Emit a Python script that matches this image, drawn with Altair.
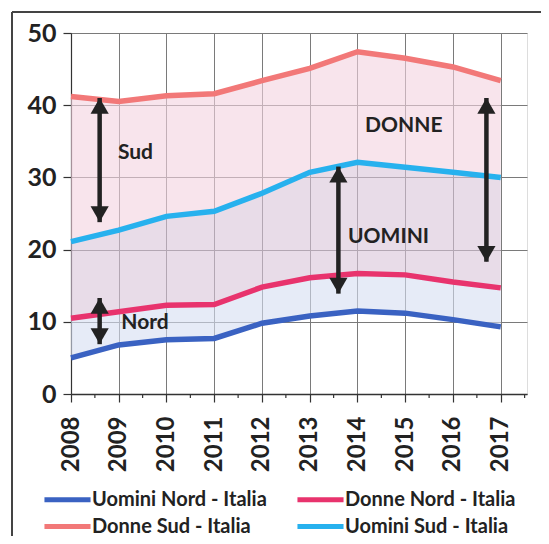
import altair as alt
import pandas as pd

years = list(range(2008, 2018))
uomini_nord = [5.0, 6.8, 7.5, 7.7, 9.8, 10.8, 11.5, 11.2, 10.3, 9.3]
donne_nord = [10.5, 11.4, 12.3, 12.4, 14.8, 16.1, 16.7, 16.5, 15.5, 14.7]
donne_sud = [41.2, 40.5, 41.3, 41.6, 43.4, 45.1, 47.4, 46.5, 45.3, 43.4]
uomini_sud = [21.1, 22.7, 24.6, 25.3, 27.8, 30.7, 32.1, 31.4, 30.7, 30.0]

# legend entries are filled column by column
series = ["Uomini Nord - Italia", "Donne Sud - Italia", "Donne Nord - Italia", "Uomini Sud - Italia"]
colors = ["#3A62C2", "#F27878", "#E8336D", "#27B1EE"]

# arrows: x position (year), top value, bottom value
arrow_x = [2008.6, 2008.6, 2013.6, 2016.7]
arrow_top = [41.0, 13.3, 31.5, 41.0]
arrow_bottom = [23.8, 6.9, 13.9, 18.3]

# annotation labels
label_text = ["Sud", "Nord", "UOMINI", "DONNE"]
label_x = [2009.35, 2009.55, 2014.65, 2014.97]
label_y = [33.4, 9.8, 21.7, 37.1]

minor_ticks = [2008.5 + i for i in range(10)]
year_ticks = years
y_ticks = [0, 10, 20, 30, 40, 50]

wide = pd.DataFrame({"anno": years, "UN": uomini_nord, "DN": donne_nord,
                     "DS": donne_sud, "US": uomini_sud})
long = pd.DataFrame({
    "anno": years * 4,
    "valore": uomini_nord + donne_sud + donne_nord + uomini_sud,
    "serie": sum([[s] * len(years) for s in series], []),
})
arrows = pd.DataFrame({"x": arrow_x, "top": arrow_top, "bottom": arrow_bottom})
labels = pd.DataFrame({"t": label_text, "x": label_x, "y": label_y})
minor = pd.DataFrame({"x": minor_ticks})

FONT = "Lato"
xs = alt.Scale(domain=[2008, 2017.55], nice=False, zero=False)
ys = alt.Scale(domain=[0, 50], nice=False)

x_axis = alt.Axis(
    values=year_ticks, format="d", labelAngle=-90, labelFontSize=24, labelFont=FONT,
    labelFontWeight="bold", labelColor="#222", labelPadding=14, labelBaseline="middle",
    labelAlign="right",
    title=None, grid=True, gridColor="#7a7a7a", gridWidth=1,
    domainColor="#333", domainWidth=1.5, tickColor="#333", tickSize=8, tickWidth=1.2)
y_axis = alt.Axis(
    values=y_ticks, labelFontSize=25, labelFont=FONT, labelFontWeight="bold",
    labelColor="#222", labelPadding=7, title=None, grid=True, gridColor="#7a7a7a",
    gridWidth=1, domainColor="#333", domainWidth=1.2, tickColor="#333", tickSize=8,
    tickWidth=1.2)

base = alt.Chart(wide)
area1 = base.mark_area(color="#F4D2E0", opacity=0.6).encode(
    x=alt.X("anno:Q", scale=xs, axis=x_axis),
    y=alt.Y("DS:Q", scale=ys, axis=y_axis), y2="US:Q")
area2 = base.mark_area(color="#D8C5D8", opacity=0.6).encode(
    x=alt.X("anno:Q", scale=xs), y=alt.Y("US:Q", scale=ys), y2="DN:Q")
area3 = base.mark_area(color="#D5DEF2", opacity=0.6).encode(
    x=alt.X("anno:Q", scale=xs), y=alt.Y("DN:Q", scale=ys), y2="UN:Q")

lines = alt.Chart(long).mark_line(strokeWidth=5.5).encode(
    x=alt.X("anno:Q", scale=xs), y=alt.Y("valore:Q", scale=ys),
    color=alt.Color("serie:N", scale=alt.Scale(domain=series, range=colors),
                    legend=alt.Legend(
                        title=None, orient="none", legendX=-14, legendY=456,
                        columns=2, symbolType="M-3,0H3", symbolSize=236,
                        symbolStrokeWidth=5, labelFont=FONT, labelFontSize=20,
                        labelFontWeight="bold", labelColor="#222", labelOffset=14,
                        rowPadding=6, columnPadding=20, labelLimit=300,
                        gridAlign="all")),
)

minor_rule = alt.Chart(minor).mark_rule(color="#333", strokeWidth=1.2).encode(
    x=alt.X("x:Q", scale=xs), y=alt.value(361), y2=alt.value(365))

shaft = alt.Chart(arrows).mark_rule(color="#222", strokeWidth=4.5).encode(
    x=alt.X("x:Q", scale=xs), y=alt.Y("top:Q", scale=ys), y2="bottom:Q")
head_top = alt.Chart(arrows).mark_point(shape="triangle-up", filled=True, color="#222",
                                        size=330, opacity=1, yOffset=8).encode(
    x=alt.X("x:Q", scale=xs), y=alt.Y("top:Q", scale=ys))
head_bot = alt.Chart(arrows).mark_point(shape="triangle-down", filled=True, color="#222",
                                        size=330, opacity=1, yOffset=-8).encode(
    x=alt.X("x:Q", scale=xs), y=alt.Y("bottom:Q", scale=ys))

texts = alt.Chart(labels).mark_text(font=FONT, fontSize=21, fontWeight="bold",
                                    color="#222").encode(
    x=alt.X("x:Q", scale=xs), y=alt.Y("y:Q", scale=ys), text="t:N")

frame_left = alt.Chart(minor).mark_rule(color="#444", strokeWidth=1.5).encode(
    x=alt.value(-59), y=alt.value(-21), y2=alt.value(530))
frame_top = alt.Chart(minor).mark_rule(color="#444", strokeWidth=1.5).encode(
    x=alt.value(-59), x2=alt.value(480), y=alt.value(-21))

chart = alt.layer(area1, area2, area3, lines, minor_rule, shaft, head_top, head_bot,
                  texts, frame_left, frame_top).properties(
    width=456, height=361,
    autosize=alt.AutoSizeParams(type="none"),
    padding={"left": 63, "top": 25, "right": 14, "bottom": 142},
).configure_view(stroke=None).configure(background="white")

chart.save("out.html", embed_options={"renderer": "svg", "actions": False})
